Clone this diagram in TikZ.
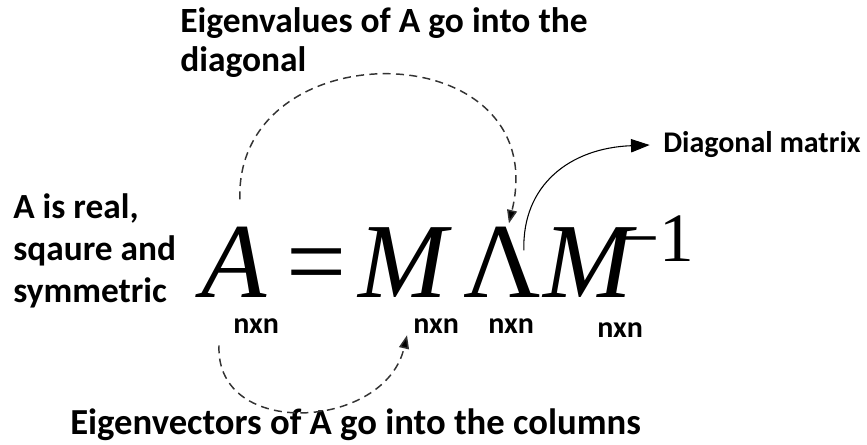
\documentclass[tikz,border=0pt]{standalone}
\usepackage{fontspec}
\setmainfont{Carlito}
\newfontfamily\eqfont{Liberation Serif}
\usetikzlibrary{arrows.meta}

\begin{document}
\begin{tikzpicture}[x=0.75pt, y=-0.75pt,
    note/.style={font=\bfseries\fontsize{26.6}{29.5}\selectfont, align=left, inner sep=0pt, anchor=base west},
    dim/.style={font=\bfseries\fontsize{22.5}{27}\selectfont, inner sep=0pt, anchor=base west},
    sym/.style={font=\eqfont\fontsize{80}{90}\selectfont, inner sep=0pt, anchor=base west},
    link/.style={dash pattern=on 6pt off 4pt, line width=1.1pt, draw=black!80,
                 -{Triangle[length=10pt, width=7.5pt, fill=black]}},
    pointer/.style={line width=0.8pt, -{Triangle[length=14pt, width=10pt]}}]
  \useasboundingbox (0,0) rectangle (867,445);
  % equation
  \node[sym] (A) at (201,297) {\itshape A};
  \node[sym] (eq) at (286,297) {=};
  \node[sym] (M) at (358,297) {\itshape M};
  \node[sym] (L) at (463,297) {Λ};
  \node[sym] (Mi) at (543,297) {\itshape M};
  \node[sym, font=\eqfont\fontsize{52}{60}\selectfont] (inv) at (620,262) {−1};
  % dimensions
  \node[dim] (dA) at (233,333) {nxn};
  \node[dim] (dM) at (413,333) {nxn};
  \node[dim] (dL) at (488,333) {nxn};
  \node[dim] (dMi) at (597,337) {nxn};
  % notes
  \node[note] (vals) at (180,72) {Eigenvalues of A go into the\\diagonal};
  \node[note, font=\bfseries\fontsize{26.5}{31.5}\selectfont] (props) at (13,302) {A is real,\\sqaure and\\symmetric};
  \node[note, font=\bfseries\fontsize{22.5}{27}\selectfont] (diag) at (663,153) {Diagonal matrix};
  \node[note, font=\bfseries\fontsize{27.5}{32}\selectfont] (vecs) at (70,434) {Eigenvectors of A go into the columns};
  % arrows
  \draw[link] ([shift={(6,-27)}]A.north) .. controls (235,28) and (555,32) .. ([shift={(7,-3)}]L.north);
  \draw[link] ([shift={(-14,12)}]dA.south west) .. controls (215,440) and (385,430) .. ([shift={(-6,2)}]dM.south west);
  \draw[pointer] ([shift={(-17,24)}]L.north east) .. controls (522,185) and (570,148) .. ([xshift=-10pt]diag.west);
\end{tikzpicture}
\end{document}
